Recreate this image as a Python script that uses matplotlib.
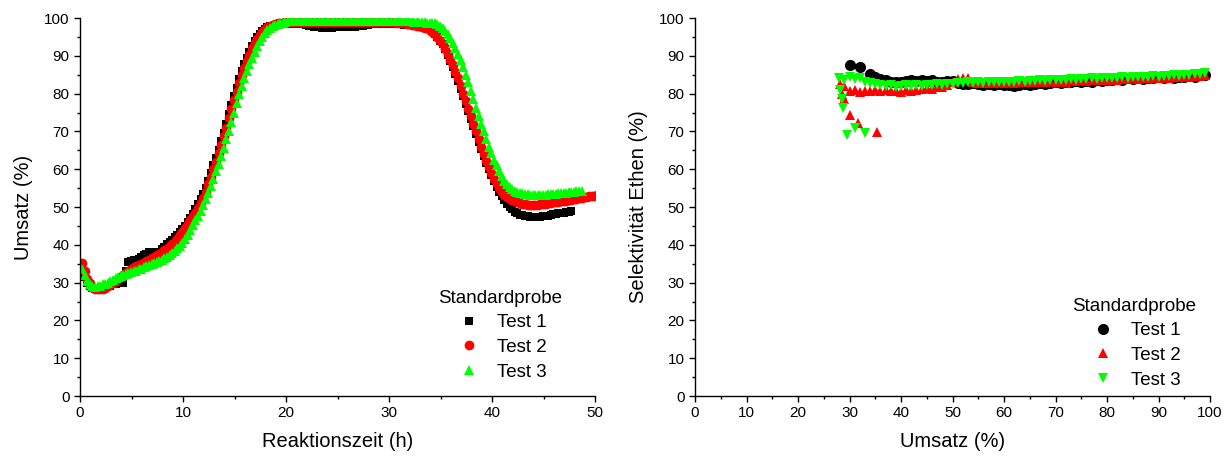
#!/usr/bin/env python3
"""
Umsatz und Selektivitaet der Standardprobe (Test 1-3)
"""

import matplotlib
matplotlib.use('Agg')
import matplotlib.pyplot as plt
from matplotlib.ticker import MultipleLocator
import numpy as np

plt.rcParams['font.family'] = ['Liberation Sans', 'DejaVu Sans']

# Umsatz (%) ueber Reaktionszeit, Messintervall 0.25 h (eine Zeile = 1 h)
T_START = 0.2
DT = 0.25

umsatz_test1 = [
    33, 31.5, 30, 29.2,
    28.5, 28.4, 28.3, 28.4,
    28.6, 28.8, 29, 29.2,
    29.5, 29.6, 29.8, 29.9,
    30, 33, 35.5, 35.7,
    36, 36.1, 36.3, 36.7,
    37.2, 37.6, 38, 38,
    38, 38.1, 38.2, 38.8,
    39.5, 40.1, 40.8, 41.4,
    42, 42.7, 43.5, 44.2,
    45, 46, 47, 48.2,
    49.5, 50.7, 52, 53.5,
    55, 57, 59, 61,
    63, 65.2, 67.5, 69.7,
    72, 74.5, 77, 79.3,
    81.5, 83.8, 86, 87.8,
    89.5, 91, 92.5, 93.8,
    95, 95.8, 96.5, 97,
    97.5, 97.8, 98, 98.2,
    98.3, 98.35, 98.4, 98.45,
    98.5, 98.5, 98.5, 98.5,
    98.5, 98.4, 98.3, 98.2,
    98, 97.8, 97.7, 97.6,
    97.5, 97.45, 97.4, 97.4,
    97.4, 97.45, 97.5, 97.5,
    97.5, 97.55, 97.6, 97.55,
    97.5, 97.6, 97.7, 97.8,
    97.9, 98, 98.1, 98.2,
    98.3, 98.3, 98.3, 98.3,
    98.3, 98.35, 98.4, 98.4,
    98.4, 98.35, 98.3, 98.3,
    98.3, 98.25, 98.2, 98.2,
    98.2, 98.1, 98.0, 98.0,
    98.0, 97.8, 97.5, 97.0,
    96.5, 95.8, 95, 94,
    93, 91.7, 90.3, 88.7,
    87, 85.2, 83.3, 81.3,
    79.3, 77.3, 75.3, 73.3,
    71.3, 69.3, 67.3, 65.4,
    63.5, 61.7, 60, 58.4,
    56.8, 55.4, 54, 52.9,
    51.8, 50.9, 50, 49.4,
    48.8, 48.4, 48, 47.8,
    47.6, 47.5, 47.4, 47.35,
    47.3, 47.35, 47.4, 47.5,
    47.6, 47.75, 47.9, 48.05,
    48.2, 48.3, 48.4, 48.5,
    48.6, 48.75, 48.9,
]

umsatz_test2 = [
    35.3, 33, 31, 29.8,
    28.8, 28.4, 28.2, 28.2,
    28.3, 28.6, 29, 29.5,
    30, 30.5, 31, 31.5,
    32, 32.6, 33.2, 33.6,
    34, 34.4, 34.7, 35,
    35.3, 35.6, 36, 36.4,
    36.8, 37.2, 37.6, 38,
    38.5, 39, 39.6, 40.2,
    40.8, 41.6, 42.5, 43.5,
    44.5, 45.5, 46.5, 47.5,
    48.5, 49.7, 51, 52.4,
    54, 56, 58, 60,
    62, 64.2, 66.5, 68.7,
    71, 73.5, 76, 78.3,
    80.5, 82.8, 85, 86.8,
    88.5, 90.3, 92, 93.3,
    94.5, 95.5, 96.3, 97,
    97.5, 97.9, 98.2, 98.4,
    98.6, 98.7, 98.8, 98.85,
    98.9, 98.9, 98.9, 98.9,
    98.9, 98.9, 98.9, 98.9,
    98.9, 98.9, 98.9, 98.9,
    98.9, 98.9, 98.9, 98.9,
    98.9, 98.9, 98.9, 98.9,
    98.9, 98.9, 98.9, 98.9,
    98.9, 98.9, 98.9, 98.9,
    98.9, 98.9, 98.9, 98.9,
    98.9, 98.9, 98.9, 98.9,
    98.9, 98.9, 98.9, 98.9,
    98.9, 98.85, 98.8, 98.75,
    98.7, 98.6, 98.5, 98.35,
    98.2, 98.1, 98, 97.8,
    97.6, 97.45, 97.3, 96.8,
    96.3, 95.7, 95, 94,
    93, 91.8, 90.5, 89,
    87.5, 85.8, 84, 82,
    80, 78, 76, 74,
    72, 70, 68, 66,
    64, 62.2, 60.5, 59,
    57.5, 56.2, 55, 54.1,
    53.3, 52.7, 52.2, 51.8,
    51.5, 51.2, 51, 50.8,
    50.7, 50.65, 50.6, 50.6,
    50.6, 50.65, 50.7, 50.8,
    50.9, 51, 51.1, 51.2,
    51.3, 51.4, 51.5, 51.6,
    51.7, 51.8, 51.9, 52.05,
    52.2, 52.35, 52.5, 52.6,
    52.7, 52.8, 52.9, 53,
    53.1,
]

umsatz_test3 = [
    33.5, 32, 30.5, 29.7,
    29, 28.9, 29, 29.2,
    29.5, 29.7, 30, 30.4,
    30.8, 31.2, 31.5, 31.8,
    32, 32.2, 32.5, 32.7,
    33, 33.2, 33.5, 33.7,
    34, 34.3, 34.6, 34.9,
    35.2, 35.5, 35.8, 36.1,
    36.5, 36.9, 37.4, 37.9,
    38.4, 39.1, 39.8, 40.6,
    41.5, 42.7, 44, 45.2,
    46.5, 47.7, 49, 50.5,
    52, 53.7, 55.5, 57.5,
    59.5, 61.5, 63.5, 65.7,
    68, 70.2, 72.5, 75,
    77.5, 79.8, 82, 84,
    86, 87.8, 89.5, 91,
    92.5, 93.8, 95, 95.9,
    96.7, 97.3, 97.8, 98.1,
    98.4, 98.6, 98.8, 98.95,
    99.1, 99.1, 99.1, 99.15,
    99.2, 99.2, 99.2, 99.2,
    99.2, 99.2, 99.2, 99.2,
    99.2, 99.2, 99.2, 99.2,
    99.2, 99.2, 99.2, 99.2,
    99.2, 99.2, 99.2, 99.2,
    99.2, 99.2, 99.2, 99.2,
    99.2, 99.2, 99.2, 99.2,
    99.2, 99.2, 99.2, 99.2,
    99.2, 99.2, 99.2, 99.2,
    99.2, 99.2, 99.2, 99.2,
    99.2, 99.15, 99.1, 99.1,
    99.1, 99.05, 99, 99,
    99, 98.9, 98.8, 98.8,
    98.8, 98.6, 98.3, 97.9,
    97.3, 96.6, 95.8, 94.7,
    93.5, 92, 90.5, 88.8,
    87, 85, 83, 80.8,
    78.5, 76.2, 74, 72,
    70, 68, 66, 64.2,
    62.5, 61, 59.5, 58.2,
    57, 56.1, 55.3, 54.8,
    54.3, 54, 53.8, 53.6,
    53.5, 53.4, 53.3, 53.25,
    53.2, 53.2, 53.2, 53.25,
    53.3, 53.35, 53.4, 53.45,
    53.5, 53.6, 53.7, 53.75,
    53.8, 53.9, 54, 54.1,
    54.2, 54.25, 54.3,
]

# Selektivitaet Ethen (%) ueber Umsatz, Umsatz in 1 %-Schritten
sel_test1_start = 36
sel_test1 = [
    83.8, 83.5, 83.2, 83.0, 83.2, 83.4, 83.5, 83.3, 83.6, 83.4,
    83.5, 83.2, 83.0, 83.4, 83.3, 82.8, 82.5, 82.6, 82.8, 82.5,
    82.4, 82.6, 82.3, 82.5, 82.2, 82.4, 82.0, 82.3, 82.5, 82.2,
    82.6, 82.8, 82.5, 82.7, 83.0, 82.8, 83.2, 83.0, 83.3, 83.1,
    83.4, 83.2, 83.5, 83.4, 83.7, 83.5, 83.8, 83.6, 84.0, 83.8,
    84.1, 83.9, 84.2, 84.0, 84.3, 84.1, 84.4, 84.2, 84.5, 84.3,
    84.6, 84.5, 84.8, 85.0,
]
sel_test1_extra_x = [30.1, 32.0, 34.0, 35.0]
sel_test1_extra_y = [87.6, 87.0, 85.2, 84.3]

sel_test2_start = 29
sel_test2 = [
    82.0, 80.8, 81.0, 80.5, 80.8, 80.6, 80.9, 80.7, 81.0, 80.6,
    80.8, 80.5, 80.9, 80.7, 81.0, 81.2, 81.5, 81.3, 81.7, 81.8,
    82.2, 83.0, 83.8, 84.2, 84.0, 83.2, 82.8, 82.7, 82.9, 82.8,
    83.0, 82.8, 83.0, 82.9, 83.1, 83.0, 83.2, 83.0, 83.3, 83.1,
    83.3, 83.2, 83.4, 83.2, 83.5, 83.3, 83.5, 83.4, 83.6, 83.5,
    83.7, 83.6, 83.8, 83.7, 83.9, 83.8, 84.0, 83.9, 84.1, 84.0,
    84.2, 84.1, 84.3, 84.2, 84.4, 84.3, 84.5, 84.4, 84.6, 84.7,
    85.0,
]
sel_test2_extra_x = [28.2, 28.5, 29.0, 30.1, 31.7, 35.3]
sel_test2_extra_y = [82.5, 80.0, 78.5, 74.3, 72.1, 69.9]

sel_test3_start = 28
sel_test3 = [
    84.0, 83.5, 84.3, 83.8, 84.0, 83.2, 82.8, 82.5, 82.3, 82.0,
    82.2, 81.8, 82.0, 82.2, 82.0, 82.3, 82.1, 82.4, 82.2, 82.5,
    82.3, 82.6, 82.5, 82.8, 82.7, 83.0, 82.8, 83.0, 82.9, 83.1,
    83.0, 83.2, 83.0, 83.2, 83.1, 83.3, 83.2, 83.4, 83.3, 83.5,
    83.4, 83.6, 83.5, 83.7, 83.6, 83.8, 83.7, 83.9, 83.8, 84.0,
    83.9, 84.1, 84.0, 84.2, 84.1, 84.3, 84.2, 84.4, 84.3, 84.5,
    84.4, 84.6, 84.5, 84.7, 84.6, 84.8, 84.7, 84.9, 84.9, 85.1,
    85.3, 85.5,
]
sel_test3_extra_x = [28.2, 28.5, 28.8, 29.5, 31.1, 33.0]
sel_test3_extra_y = [81.0, 78.5, 76.1, 69.0, 70.8, 69.5]

labels = ['Test 1', 'Test 2', 'Test 3']
colors = ['#000000', '#ff0000', '#00ff00']


def zeitachse(werte):
    return T_START + DT * np.arange(len(werte))


def umsatzachse(start, werte):
    return start + np.arange(len(werte))


def style_axes(ax, xmax, xmajor):
    ax.set_xlim(0, xmax)
    ax.set_ylim(0, 100)
    ax.xaxis.set_major_locator(MultipleLocator(xmajor))
    ax.xaxis.set_minor_locator(MultipleLocator(xmajor / 2))
    ax.yaxis.set_major_locator(MultipleLocator(10))
    ax.yaxis.set_minor_locator(MultipleLocator(5))
    ax.spines['top'].set_visible(False)
    ax.spines['right'].set_visible(False)
    for side in ['left', 'bottom']:
        ax.spines[side].set_linewidth(1.0)
    ax.tick_params(which='major', direction='out', length=4.5, width=1.0,
                   labelsize=11, pad=3)
    ax.tick_params(which='minor', direction='out', length=2.5, width=1.0)


def add_legend(ax, anchor):
    ax.legend(title='Standardprobe', loc='upper left', bbox_to_anchor=anchor,
              frameon=False, fontsize=13.5, title_fontsize=13.5, borderpad=0,
              handlelength=1.5, handletextpad=0.75, labelspacing=0.4)


fig = plt.figure(figsize=(12.31, 4.59), dpi=100)
ax1 = fig.add_axes([80 / 1231, 63 / 459, 515 / 1231, 378 / 459])
ax2 = fig.add_axes([695 / 1231, 63 / 459, 515 / 1231, 378 / 459])

# Umsatz ueber Reaktionszeit
for werte, marker, ms, color, label in zip(
        [umsatz_test1, umsatz_test2, umsatz_test3],
        ['s', 'o', '^'], [6, 7, 7], colors, labels):
    ax1.plot(zeitachse(werte), werte, linestyle='none', marker=marker,
             markersize=ms, color=color, markeredgewidth=0, label=label)

style_axes(ax1, 50, 10)
ax1.set_xlabel('Reaktionszeit (h)', fontsize=14.5, labelpad=8)
ax1.set_ylabel('Umsatz (%)', fontsize=14.5, labelpad=8)
add_legend(ax1, (0.678, 0.306))

# Selektivitaet ueber Umsatz
sel_sets = [
    (sel_test1_start, sel_test1, sel_test1_extra_x, sel_test1_extra_y),
    (sel_test2_start, sel_test2, sel_test2_extra_x, sel_test2_extra_y),
    (sel_test3_start, sel_test3, sel_test3_extra_x, sel_test3_extra_y),
]
for (start, werte, ex, ey), marker, ms, color, label in zip(
        sel_sets, ['o', '^', 'v'], [8, 7.5, 7.5], colors, labels):
    x = np.concatenate([ex, umsatzachse(start, werte)])
    y = np.concatenate([ey, werte])
    ax2.plot(x, y, linestyle='none', marker=marker, markersize=ms,
             color=color, markeredgewidth=0, label=label)

style_axes(ax2, 100, 10)
ax2.set_xlabel('Umsatz (%)', fontsize=14.5, labelpad=8)
ax2.set_ylabel('Selektivität Ethen (%)', fontsize=14.5, labelpad=8)
add_legend(ax2, (0.715, 0.285))

fig.savefig('out.png', dpi=100)
plt.close(fig)
